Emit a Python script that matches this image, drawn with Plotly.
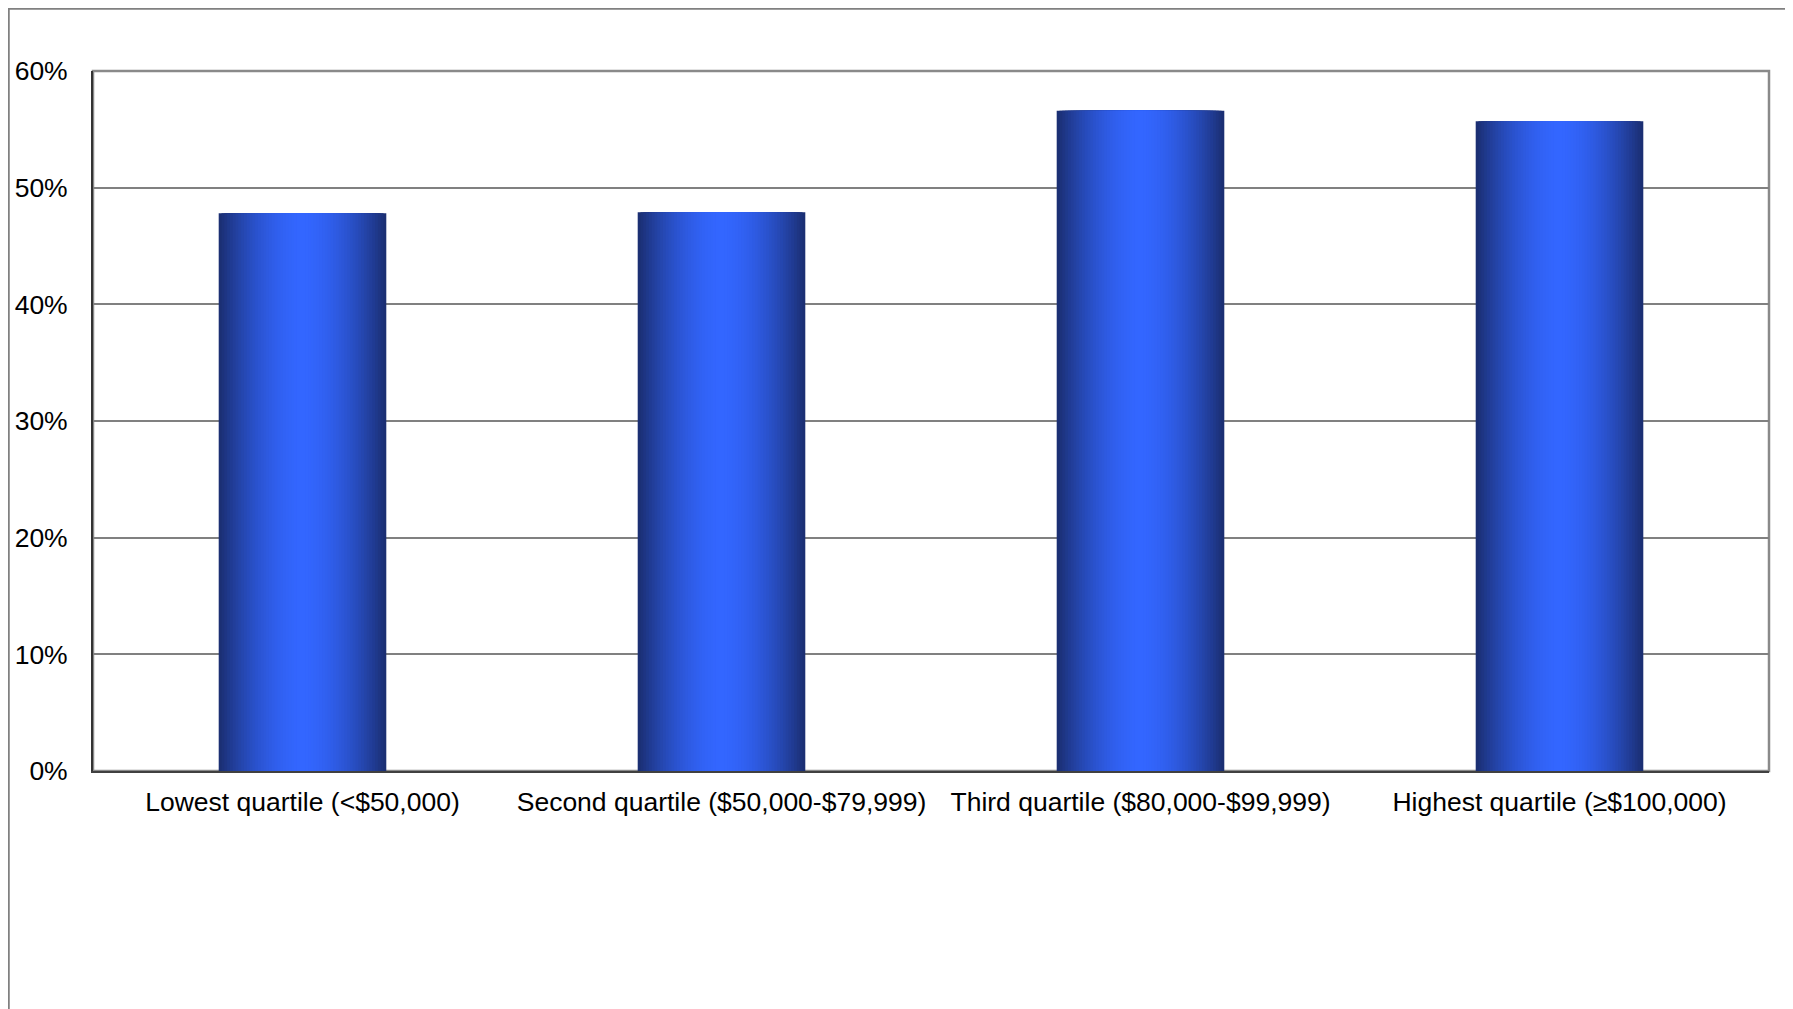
import plotly.graph_objects as go

categories = [
    "Lowest quartile (<$50,000)",
    "Second quartile ($50,000-$79,999)",
    "Third quartile ($80,000-$99,999)",
    "Highest quartile (≥$100,000)",
]
values = [47.8, 47.9, 56.6, 55.7]
tick_vals = [0, 10, 20, 30, 40, 50, 60]
tick_text = ["0%", "10%", "20%", "30%", "40%", "50%", "60%"]

W, H = 1777, 1001
ML, MR, MT, MB = 85, 16, 63, 238
plot_w = W - ML - MR
plot_h = H - MT - MB

edge = (27, 47, 115)
center = (51, 102, 255)
bar_width = 0.40
N = 30

fig = go.Figure()
for k in range(N):
    w = bar_width * (1 - k / N)
    u = w / bar_width  # 1 at edge, ->0 at centre
    s = 1 - u ** 1.8
    col = tuple(int(round(edge[i] + (center[i] - edge[i]) * s)) for i in range(3))
    fig.add_trace(go.Bar(
        x=categories, y=values, width=w,
        marker=dict(color="rgb(%d,%d,%d)" % col, line=dict(width=0)),
        showlegend=False,
        hoverinfo="x+y" if k == 0 else "skip",
    ))

font_family = "Arial, 'Liberation Sans', sans-serif"

fig.update_layout(
    width=W, height=H,
    margin=dict(l=ML, r=MR, t=MT, b=MB, pad=0, autoexpand=False),
    barmode="overlay",
    plot_bgcolor="white",
    paper_bgcolor="white",
    font=dict(family=font_family, size=26, color="black"),
    xaxis=dict(
        type="category",
        range=[-0.5, 3.5],
        automargin=False,
        showgrid=False,
        showline=True, linecolor="#404040", linewidth=2,
        ticks="", tickfont=dict(size=26.5, color="black"),
        ticklabelstandoff=6,
    ),
    yaxis=dict(
        range=[0, 60],
        automargin=False,
        tickvals=tick_vals, ticktext=tick_text,
        showgrid=True, gridcolor="#808080", gridwidth=1.5,
        showline=True, linecolor="#333333", linewidth=2,
        zeroline=False,
        ticks="", tickfont=dict(size=26.5, color="black"),
        ticklabelstandoff=18,
    ),
    shapes=[
        # plot frame (top / right in grey)
        dict(type="rect", xref="paper", yref="paper", x0=0, y0=0, x1=1, y1=1,
             line=dict(color="#8a8a8a", width=2.5), layer="below"),
        # outer chart frame
        dict(type="rect", xref="paper", yref="paper",
             x0=(0.5 - ML) / plot_w, y0=-0.6,
             x1=1.2, y1=(H - MB - 0.5) / plot_h,
             line=dict(color="#808080", width=2.5), layer="below"),
    ],
)

fig.write_html("out.html")
